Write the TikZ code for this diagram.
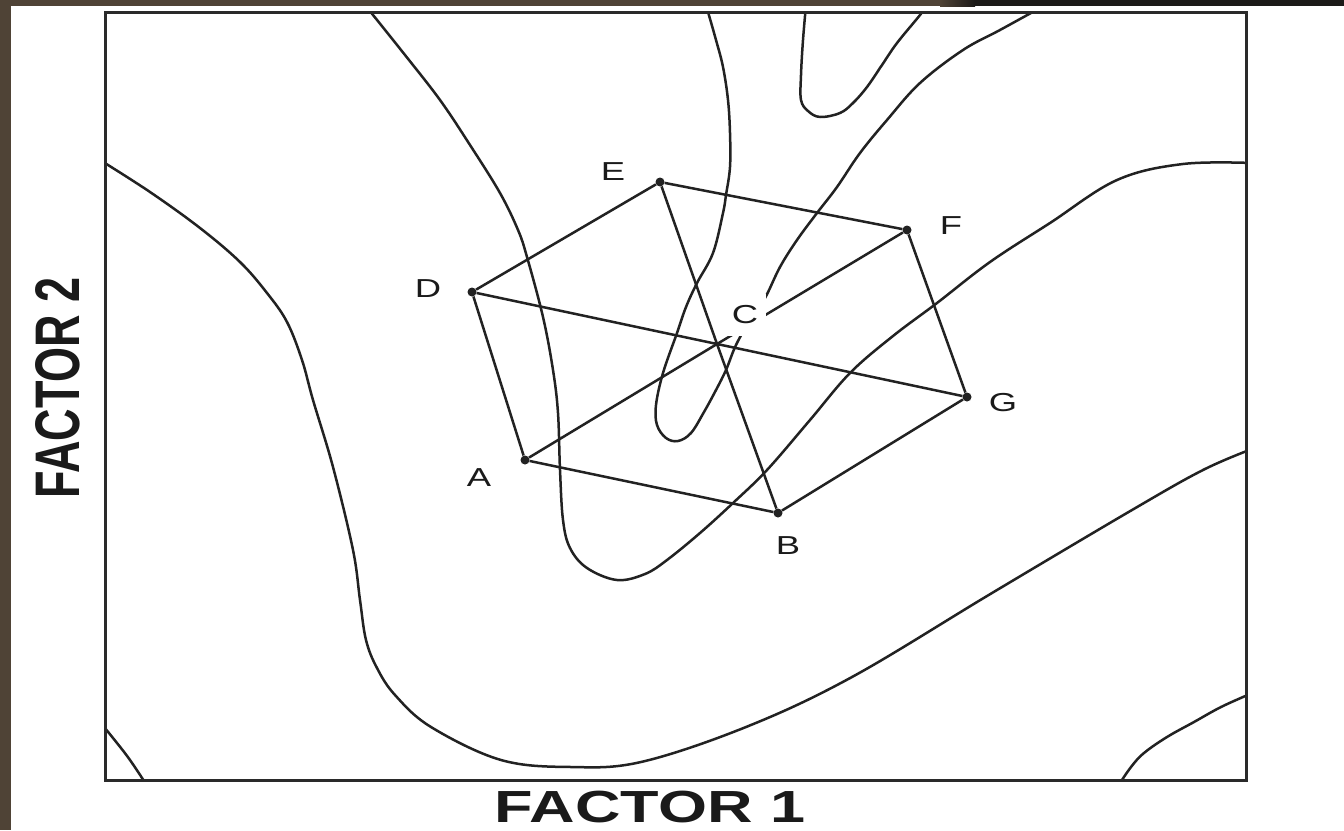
\documentclass[tikz,border=0pt]{standalone}
\usepackage{fontspec}
\setmainfont{Liberation Sans}
\usepackage{graphicx}
\definecolor{linec}{HTML}{222222}
\definecolor{textc}{HTML}{1A1A1A}
\definecolor{boxc}{HTML}{2A2A2A}
\definecolor{brownband}{HTML}{4F4336}
\definecolor{blackband}{HTML}{1C1A18}
\begin{document}
\begin{tikzpicture}[x=1pt,y=-1pt,
  cont/.style={line width=2.5pt, draw=linec, line join=round},
  edge/.style={line width=2.5pt, draw=linec},
  pt/.style={circle, fill=linec, inner sep=0pt, minimum size=9pt},
  lab/.style={text=textc, font=\fontsize{26}{30}\selectfont, inner sep=0pt},
  axis/.style={text=textc, font=\fontsize{45}{50}\selectfont\bfseries, inner sep=0pt}]
% background and slide bands
\fill[white] (0,0) rectangle (1344,830);
\useasboundingbox (0,0) rectangle (1344,830);
\fill[brownband] (0,0) rectangle (11,830);
\fill[brownband] (0,0) rectangle (940,6);
\shade[left color=brownband, right color=blackband] (940,0) rectangle (975,6);
\fill[blackband] (975,0) rectangle (1344,6);
% contours
\begin{scope}
\clip (105,12) rectangle (1246,780);
\draw[cont] plot[smooth, tension=0.6] coordinates {(100,160) (150,192) (200,228) (240,262) (267,293) (287,322) (302,360) (313,400) (333,467) (353,550) (360,600) (366,640) (377,668) (395,695) (431,727) (501,760) (571,767) (641,762) (746,727) (852,677) (992,593) (1132,510) (1203,470) (1252,449)};
\draw[cont] plot[smooth, tension=0.6] coordinates {(365,5) (405,55) (440,100) (470,145) (500,193) (518,230) (527,257) (543,317) (553,370) (558,413) (560,470) (563,520) (570,548) (587,568) (617,580) (645,574) (667,560) (700,533) (733,503) (767,470) (810,420) (850,373) (893,336) (937,303) (990,262) (1050,223) (1117,180) (1183,164) (1252,163)};
\draw[cont] plot[smooth, tension=0.6] coordinates {(706,5) (716,40) (723,67) (728,100) (730,133) (730,167) (726,195) (723,213) (713,253) (697,283) (686,307) (677,333) (663,373) (656,405) (657,425) (666,438) (678,441) (691,433) (704,412) (716,390) (726,370) (736,345) (750,320) (765,298) (780,267) (797,240) (817,213) (837,187) (860,153) (887,120) (920,83) (963,50) (1000,30) (1040,8)};
\draw[cont] plot[smooth, tension=0.6] coordinates {(806,5) (803,40) (801,75) (801,100) (808,111) (820,117) (840,113) (853,103) (867,87) (882,65) (897,43) (920,15) (925,7)};
\draw[cont] plot[smooth, tension=0.6] coordinates {(100,722) (117,743) (130,760) (146,784)};
\draw[cont] plot[smooth, tension=0.6] coordinates {(1118,786) (1131,767) (1144,753) (1167,737) (1194,722) (1221,707) (1250,694)};
\end{scope}
% frame
\draw[line width=3pt, draw=boxc] (105,12) rectangle (1246,780);
% design points
\node[pt] (A) at (525,460) {};
\node[pt] (B) at (778,513) {};
\node[pt] (D) at (472,292) {};
\node[pt] (E) at (660,182) {};
\node[pt] (F) at (907,230) {};
\node[pt] (G) at (967,397) {};
\coordinate (C) at (717,344);
% hexagon
\draw[edge] (D) -- (E) -- (F) -- (G) -- (B) -- (A) -- (D);
% diagonals through centre
\draw[edge] (D) -- (C) -- (G);
\draw[edge] (E) -- (C) -- (B);
\draw[edge] (A) -- (C) -- (F);
% labels
\node[lab] (la) at (479,478) {\scalebox{1.4}[1]{A}};
\node[lab] (lb) at (788,546) {\scalebox{1.4}[1]{B}};
\node[lab] (ld) at (428,289) {\scalebox{1.4}[1]{D}};
\node[lab] (le) at (613,172) {\scalebox{1.4}[1]{E}};
\node[lab] (lf) at (951,226) {\scalebox{1.4}[1]{F}};
\node[lab] (lg) at (1003,403) {\scalebox{1.4}[1]{G}};
\node[lab, fill=white, minimum width=42pt, minimum height=42pt] (lc) at (745,315) {\scalebox{1.4}[1]{C}};
% axis titles
\node[axis] (x1) at (650,807) {\scalebox{1.4}[1]{FACTOR 1}};
\node[axis, rotate=90] (x2) at (58,388) {\scalebox{1}[1.4]{FACTOR 2}};
\end{tikzpicture}
\end{document}
